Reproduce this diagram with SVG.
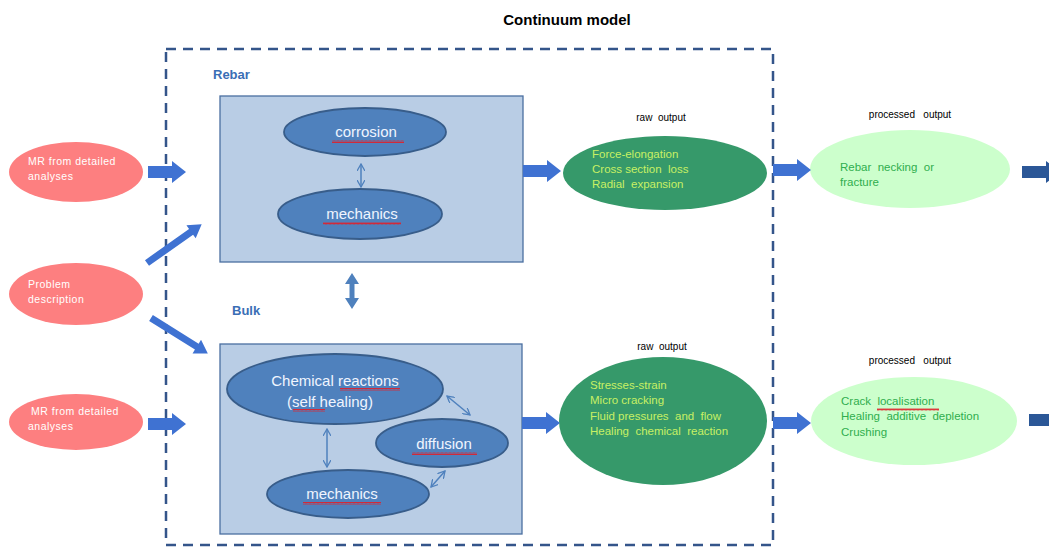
<svg xmlns="http://www.w3.org/2000/svg" xmlns:xlink="http://www.w3.org/1999/xlink" width="1049" height="548" viewBox="0 0 1049 548">
<style>
.t{font-family:"Liberation Sans",Arial,sans-serif}
.title{font-size:15px;font-weight:bold;fill:#000}
.sec{font-size:13px;font-weight:bold;fill:#3a6eb5}
.red{fill:#fd7f80}
.redt{font-size:10.5px;fill:#ffffff;letter-spacing:0.5px}
.box{fill:#b9cde5;stroke:#4a6fa0;stroke-width:1.3}
.be{fill:#4f81bd;stroke:#385d8a;stroke-width:1.8}
.bet{font-size:15px;fill:#f0f5ff;text-anchor:middle}
.g1{fill:#36996a}
.gt{font-size:11.5px;fill:#c8f064;white-space:pre}
.p1{fill:#ccffcc}
.pt{font-size:11.5px;fill:#2fae4e;white-space:pre}
.lbl{font-size:10px;fill:#000;text-anchor:middle;white-space:pre}
.blk{fill:#3f72d2}
.dblk{fill:#2b5797}
.thin{stroke:#4f81bd;stroke-width:1.5;fill:none;marker-start:url(#ch);marker-end:url(#ch)}
.sq{fill:url(#wave)}
</style>
<defs>
<path id="barr" d="M0,-6 H24 V-11 L38,0 L24,11 V6 H0 Z"/>
<path id="darr" d="M0,-3.5 H54 V-8 L67,0 L54,8 V3.5 H0 Z"/>
<marker id="ch" viewBox="0 0 8 8" refX="7" refY="4" markerWidth="8" markerHeight="8" markerUnits="userSpaceOnUse" orient="auto-start-reverse">
<path d="M0,0 L7,4 L0,8" fill="none" stroke="#4f81bd" stroke-width="1.3"/>
</marker>
<pattern id="wave" width="4" height="3" patternUnits="userSpaceOnUse">
<path d="M0,2.5 L1,0.5 L2,2.5 L3,0.5 L4,2.5" fill="none" stroke="#e0202a" stroke-width="0.9"/>
</pattern>
</defs>

<text class="t title" x="567" y="25" text-anchor="middle">Continuum model</text>

<g id="continuum-frame">
<rect x="166" y="49" width="607" height="496" fill="none" stroke="#34558a" stroke-width="2.5" stroke-dasharray="10 7"/>
<text class="t sec" x="213" y="79">Rebar</text>
<text class="t sec" x="232" y="315">Bulk</text>
</g>

<g id="mr1">
<ellipse class="red" cx="76" cy="172" rx="67" ry="30"/>
<text class="t redt" x="28" y="165">MR from detailed</text>
<text class="t redt" x="28" y="180">analyses</text>
</g>
<g id="problem">
<ellipse class="red" cx="76" cy="294" rx="67" ry="31"/>
<text class="t redt" x="28" y="288">Problem</text>
<text class="t redt" x="28" y="303">description</text>
</g>
<g id="mr2">
<ellipse class="red" cx="76" cy="422" rx="67" ry="28"/>
<text class="t redt" x="31" y="415">MR from detailed</text>
<text class="t redt" x="28" y="430">analyses</text>
</g>

<g id="rebar-box">
<rect class="box" x="220" y="96" width="303" height="166"/>
</g>
<g id="corrosion">
<ellipse class="be" cx="365" cy="132" rx="81" ry="24"/>
<text class="t bet" x="366" y="137">corrosion</text>
<rect class="sq" x="332" y="140" width="72" height="3"/>
</g>
<g id="rebar-mechanics">
<ellipse class="be" cx="360" cy="214" rx="82" ry="25"/>
<text class="t bet" x="362" y="219">mechanics</text>
<rect class="sq" x="323" y="222" width="78" height="3"/>
</g>

<g id="bulk-box">
<rect class="box" x="220" y="344" width="302" height="190"/>
</g>
<g id="chemical">
<ellipse class="be" cx="335" cy="389" rx="108" ry="35"/>
<text class="t bet" x="335" y="386">Chemical reactions</text>
<text class="t bet" x="330" y="407">(self healing)</text>
<rect class="sq" x="340" y="388" width="60" height="3"/>
<rect class="sq" x="293" y="409" width="32" height="3"/>
</g>
<g id="diffusion">
<ellipse class="be" cx="442" cy="443" rx="66" ry="24"/>
<text class="t bet" x="444" y="449">diffusion</text>
<rect class="sq" x="412" y="452" width="65" height="3"/>
</g>
<g id="bulk-mechanics">
<ellipse class="be" cx="348" cy="494" rx="81" ry="24"/>
<text class="t bet" x="342" y="499">mechanics</text>
<rect class="sq" x="303" y="502" width="78" height="3"/>
</g>

<g id="raw1">
<text class="t lbl" x="661" y="121">raw  output</text>
<ellipse class="g1" cx="665" cy="173" rx="102" ry="37"/>
<text class="t gt" x="592" y="158">Force-elongation</text>
<text class="t gt" x="592" y="173">Cross section  loss</text>
<text class="t gt" x="592" y="188">Radial  expansion</text>
</g>
<g id="raw2">
<text class="t lbl" x="662" y="350">raw  output</text>
<ellipse class="g1" cx="663" cy="421" rx="104" ry="64"/>
<text class="t gt" x="590" y="389">Stresses-strain</text>
<text class="t gt" x="590" y="404">Micro cracking</text>
<text class="t gt" x="590" y="420">Fluid pressures  and  flow</text>
<text class="t gt" x="590" y="435">Healing  chemical  reaction</text>
</g>

<g id="proc1">
<text class="t lbl" x="910" y="118">processed   output</text>
<ellipse class="p1" cx="910" cy="169" rx="100" ry="39"/>
<text class="t pt" x="840" y="171">Rebar  necking  or</text>
<text class="t pt" x="840" y="186">fracture</text>
</g>
<g id="proc2">
<text class="t lbl" x="910" y="364">processed   output</text>
<ellipse class="p1" cx="914" cy="421" rx="103" ry="44"/>
<text class="t pt" x="841" y="405">Crack  localisation</text>
<rect class="sq" x="877" y="408" width="62" height="3"/>
<text class="t pt" x="841" y="420">Healing  additive  depletion</text>
<text class="t pt" x="841" y="436">Crushing</text>
</g>

<g id="connectors">
<use href="#barr" class="blk" transform="translate(148,172)"/>
<use href="#barr" class="blk" transform="translate(148,424)"/>
<use href="#darr" class="blk" transform="translate(147,263) rotate(-35.3)"/>
<use href="#darr" class="blk" transform="translate(151,318) rotate(32)"/>
<use href="#barr" class="blk" transform="translate(523,171)"/>
<use href="#barr" class="blk" transform="translate(522,423)"/>
<use href="#barr" class="blk" transform="translate(773,170)"/>
<use href="#barr" class="blk" transform="translate(773,423)"/>
<use href="#barr" class="dblk" transform="translate(1022,172)"/>
<use href="#barr" class="dblk" transform="translate(1029,420)"/>
<path d="M352,273 L359,284 H354.5 V298 H359 L352,309 L345,298 H349.5 V284 H345 Z" fill="#4f81bd"/>
<line class="thin" x1="361" y1="164" x2="361" y2="187"/>
<line class="thin" x1="327" y1="429" x2="327" y2="467"/>
<line class="thin" x1="447" y1="396" x2="470" y2="415"/>
<line class="thin" x1="445" y1="471" x2="431" y2="487"/>
</g>
</svg>
